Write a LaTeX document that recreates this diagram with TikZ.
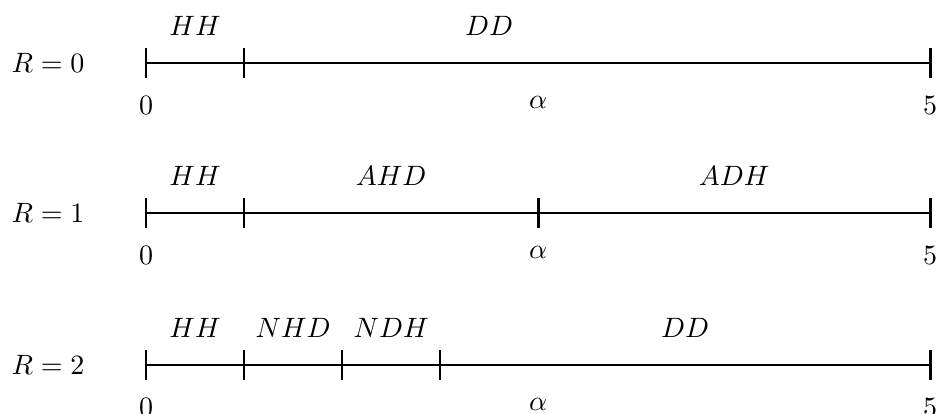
\documentclass[tikz,border=0pt]{standalone}
\usetikzlibrary{arrows.meta, positioning}

\begin{document}
\begin{tikzpicture}[
    x=35pt,
    y=35pt,
    seg/.style={line width=1pt},
    tickmark/.style={line width=1pt},
    lbl/.style={inner sep=0pt}
]

\useasboundingbox (-1.49,0.643) rectangle (8.09,-3.58);

% R = 0
\node[lbl] (r0) at (-1,0) {$R=0$};
\coordinate (a0) at (0,0);
\coordinate (b0) at (1,0);
\coordinate (e0) at (8,0);
\draw[seg] (a0) -- (b0) -- (e0);
\foreach \p in {a0,b0,e0}
    \draw[tickmark] ([yshift=5.3pt]\p) -- ([yshift=-5.3pt]\p);
\node[lbl] (hh0) at (0.5,0.38) {$HH$};
\node[lbl] (dd0) at (3.5,0.38) {$DD$};
\node[lbl] (zero0) at (0,-0.43) {$0$};
\node[lbl] (al0) at (4,-0.40) {$\alpha$};
\node[lbl] (five0) at (8,-0.43) {$5$};

% R = 1
\node[lbl] (r1) at (-1,-1.53) {$R=1$};
\coordinate (a1) at (0,-1.53);
\coordinate (b1) at (1,-1.53);
\coordinate (c1) at (4,-1.53);
\coordinate (e1) at (8,-1.53);
\draw[seg] (a1) -- (b1) -- (c1) -- (e1);
\foreach \p in {a1,b1,c1,e1}
    \draw[tickmark] ([yshift=5.3pt]\p) -- ([yshift=-5.3pt]\p);
\node[lbl] (hh1) at (0.5,-1.15) {$HH$};
\node[lbl] (ahd1) at (2.5,-1.15) {$AHD$};
\node[lbl] (adh1) at (6,-1.15) {$ADH$};
\node[lbl] (zero1) at (0,-1.96) {$0$};
\node[lbl] (al1) at (4,-1.93) {$\alpha$};
\node[lbl] (five1) at (8,-1.96) {$5$};

% R = 2
\node[lbl] (r2) at (-1,-3.08) {$R=2$};
\coordinate (a2) at (0,-3.08);
\coordinate (b2) at (1,-3.08);
\coordinate (c2) at (2,-3.08);
\coordinate (d2) at (3,-3.08);
\coordinate (e2) at (8,-3.08);
\draw[seg] (a2) -- (b2) -- (c2) -- (d2) -- (e2);
\foreach \p in {a2,b2,c2,d2,e2}
    \draw[tickmark] ([yshift=5.3pt]\p) -- ([yshift=-5.3pt]\p);
\node[lbl] (hh2) at (0.5,-2.70) {$HH$};
\node[lbl] (nhd2) at (1.5,-2.70) {$NHD$};
\node[lbl] (ndh2) at (2.5,-2.70) {$NDH$};
\node[lbl] (dd2) at (5.5,-2.70) {$DD$};
\node[lbl] (zero2) at (0,-3.51) {$0$};
\node[lbl] (al2) at (4,-3.48) {$\alpha$};
\node[lbl] (five2) at (8,-3.51) {$5$};

\end{tikzpicture}
\end{document}
